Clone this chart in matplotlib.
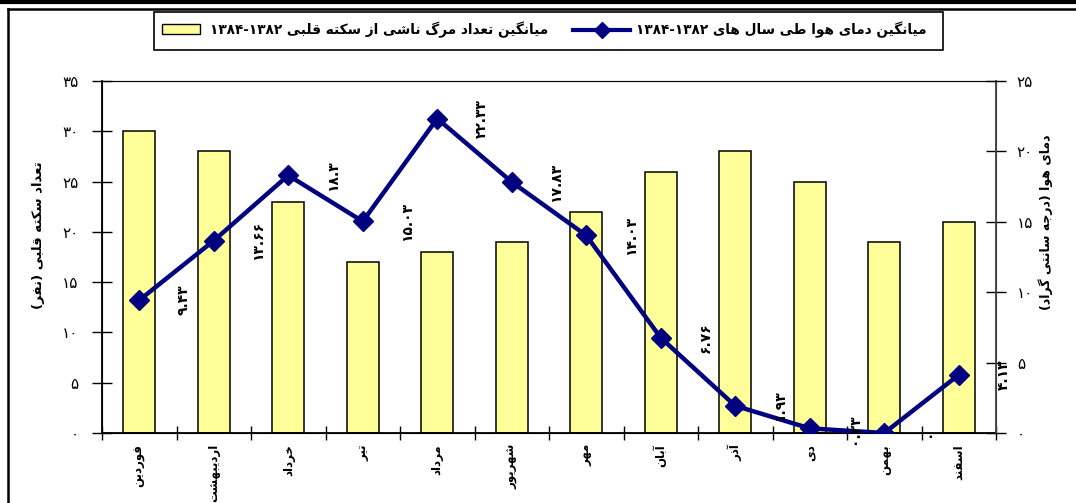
import re
import matplotlib
matplotlib.use('Agg')
import matplotlib.pyplot as plt
from matplotlib.patches import Rectangle
from matplotlib.lines import Line2D

# Data
months = ['فوردین', 'اردیبهشت', 'خرداد', 'تیر', 'مرداد', 'شهریور',
          'مهر', 'آبان', 'آذر', 'دی', 'بهمن', 'اسفند']
deaths = [30, 28, 23, 17, 18, 19, 22, 26, 28, 25, 19, 21]
temps = [9.43, 13.66, 18.3, 15.03, 22.33, 17.83, 14.03, 6.76, 1.93, 0.33, 0, 4.13]
left_ticks = [0, 5, 10, 15, 20, 25, 30, 35]
right_ticks = [0, 5, 10, 15, 20, 25]

bar_label = 'میانگین تعداد مرگ ناشی از سکته قلبی ۱۳۸۴-۱۳۸۲'
line_label = 'میانگین دمای هوا طی سال های ۱۳۸۴-۱۳۸۲'
left_title = 'تعداد سکته قلبی (نفر)'
right_title = 'دمای هوا (درجه سانتی گراد)'

# Arabic/Persian shaping (matplotlib has no text shaping of its own)
FORMS = {
    'ا': (0xFE8D, 0xFE8E), 'آ': (0xFE81, 0xFE82),
    'ب': (0xFE8F, 0xFE90, 0xFE91, 0xFE92), 'پ': (0xFB56, 0xFB57, 0xFB58, 0xFB59),
    'ت': (0xFE95, 0xFE96, 0xFE97, 0xFE98), 'ج': (0xFE9D, 0xFE9E, 0xFE9F, 0xFEA0),
    'چ': (0xFB7A, 0xFB7B, 0xFB7C, 0xFB7D), 'ح': (0xFEA1, 0xFEA2, 0xFEA3, 0xFEA4),
    'خ': (0xFEA5, 0xFEA6, 0xFEA7, 0xFEA8), 'د': (0xFEA9, 0xFEAA),
    'ذ': (0xFEAB, 0xFEAC), 'ر': (0xFEAD, 0xFEAE), 'ز': (0xFEAF, 0xFEB0),
    'ژ': (0xFB8A, 0xFB8B), 'س': (0xFEB1, 0xFEB2, 0xFEB3, 0xFEB4),
    'ش': (0xFEB5, 0xFEB6, 0xFEB7, 0xFEB8), 'ص': (0xFEB9, 0xFEBA, 0xFEBB, 0xFEBC),
    'ط': (0xFEC1, 0xFEC2, 0xFEC3, 0xFEC4), 'ع': (0xFEC9, 0xFECA, 0xFECB, 0xFECC),
    'ف': (0xFED1, 0xFED2, 0xFED3, 0xFED4), 'ق': (0xFED5, 0xFED6, 0xFED7, 0xFED8),
    'ک': (0xFB8E, 0xFB8F, 0xFB90, 0xFB91), 'گ': (0xFB92, 0xFB93, 0xFB94, 0xFB95),
    'ل': (0xFEDD, 0xFEDE, 0xFEDF, 0xFEE0), 'م': (0xFEE1, 0xFEE2, 0xFEE3, 0xFEE4),
    'ن': (0xFEE5, 0xFEE6, 0xFEE7, 0xFEE8), 'ه': (0xFEE9, 0xFEEA, 0xFEEB, 0xFEEC),
    'و': (0xFEED, 0xFEEE), 'ی': (0xFBFC, 0xFBFD, 0xFBFE, 0xFBFF),
}


def shape(text):
    out = []
    for i, c in enumerate(text):
        if c not in FORMS:
            out.append(c)
            continue
        f = FORMS[c]
        prev = text[i - 1] if i > 0 else ''
        nxt = text[i + 1] if i + 1 < len(text) else ''
        join_prev = prev in FORMS and len(FORMS[prev]) == 4
        join_next = len(f) == 4 and nxt in FORMS
        if join_prev and join_next:
            out.append(chr(f[3]))
        elif join_prev:
            out.append(chr(f[1]))
        elif join_next:
            out.append(chr(f[2]))
        else:
            out.append(chr(f[0]))
    return ''.join(out)


def rtl(text):
    s = shape(text)
    tokens = re.findall(r'[۰-۹][۰-۹.\-]*[۰-۹]|[۰-۹]|[^۰-۹]+', s)
    mirror = str.maketrans('()', ')(')
    vis = []
    for t in reversed(tokens):
        if t[0] in '۰۱۲۳۴۵۶۷۸۹':
            vis.append(t)
        else:
            vis.append(t[::-1].translate(mirror))
    return ''.join(vis)


def fa(v):
    return f'{v:g}'.translate(str.maketrans('0123456789', '۰۱۲۳۴۵۶۷۸۹'))


plt.rcParams['font.family'] = ['DejaVu Sans']

fig = plt.figure(figsize=(10.76, 5.03), dpi=100)
ax = fig.add_axes([102 / 1076, 1 - 433 / 503, 894 / 1076, 352 / 503])
ax2 = ax.twinx()

x = list(range(len(months)))
ax.bar(x, deaths, width=0.43, color='#FFFF99', edgecolor='black', linewidth=1.1, zorder=2)
ax.set_xlim(-0.5, 11.5)
ax.set_ylim(0, 35)
ax.set_yticks(left_ticks)
ax.set_yticklabels([fa(v) for v in left_ticks], fontsize=11)
ax.tick_params(axis='y', direction='inout', length=14, width=1, pad=10)
ax.set_xticks(x)
ax.set_xticklabels([rtl(m) for m in months], rotation=90, fontsize=8.5, fontweight='bold', va='top')
ax.tick_params(axis='x', length=0, pad=8)
ax.set_xticks([i - 0.5 for i in range(13)], minor=True)
ax.tick_params(axis='x', which='minor', direction='inout', length=10, width=1)
for sp in ['left', 'bottom']:
    ax.spines[sp].set_color('black')
    ax.spines[sp].set_linewidth(1.3)
ax.spines['top'].set_color('#808080')
ax.spines['right'].set_color('#404040')

ax2.plot(x, temps, color='#000080', linewidth=3.2, marker='D', markersize=10, zorder=3)
ax2.set_ylim(0, 25)
ax2.set_yticks(right_ticks)
ax2.set_yticklabels([fa(v) for v in right_ticks], fontsize=11)
ax2.tick_params(axis='y', direction='inout', length=14, width=1, pad=8)
ax2.spines['right'].set_color('#404040')
ax2.spines['right'].set_linewidth(1.3)
for i, t in enumerate(temps):
    ax2.text(i + 0.6, t, fa(t), rotation=90, ha='center', va='center',
             fontsize=10, fontweight='bold', clip_on=False)

fig.text(39 / 1076, 1 - 235 / 503, rtl(left_title), rotation=90, ha='center', va='center',
         fontsize=9.5, fontweight='bold')
fig.text(1046 / 1076, 1 - 222 / 503, rtl(right_title), rotation=90, ha='center', va='center',
         fontsize=9, fontweight='bold')

# legend box
W, H = 1076, 503
fig.add_artist(Rectangle((154 / W, 1 - 50 / H), 789 / W, 38 / H, transform=fig.transFigure,
                         facecolor='white', edgecolor='black', linewidth=1.2))
fig.add_artist(Rectangle((162 / W, 1 - 34 / H), 38 / W, 10 / H, transform=fig.transFigure,
                         facecolor='#FFFF99', edgecolor='black', linewidth=1))
fig.text(210 / W, 1 - 30 / H, rtl(bar_label), ha='left', va='center', fontsize=9.8, fontweight='bold')
fig.add_artist(Line2D([573 / W, 630 / W], [1 - 30 / H, 1 - 30 / H], transform=fig.transFigure,
                      color='#000080', linewidth=3))
fig.add_artist(Line2D([601.5 / W], [1 - 30 / H], transform=fig.transFigure,
                      color='#000080', marker='D', markersize=8, linestyle='none'))
fig.text(636 / W, 1 - 30 / H, rtl(line_label), ha='left', va='center', fontsize=9.8, fontweight='bold')

# outer frame
fig.add_artist(Line2D([0, 1], [1 - 2 / H, 1 - 2 / H], transform=fig.transFigure, color='black', linewidth=3))
fig.add_artist(Line2D([8 / W, 1], [1 - 9 / H, 1 - 9 / H], transform=fig.transFigure, color='black', linewidth=1.8))
fig.add_artist(Line2D([8 / W, 8 / W], [0, 1 - 9 / H], transform=fig.transFigure, color='black', linewidth=1.8))

fig.savefig('out.png', dpi=100)
